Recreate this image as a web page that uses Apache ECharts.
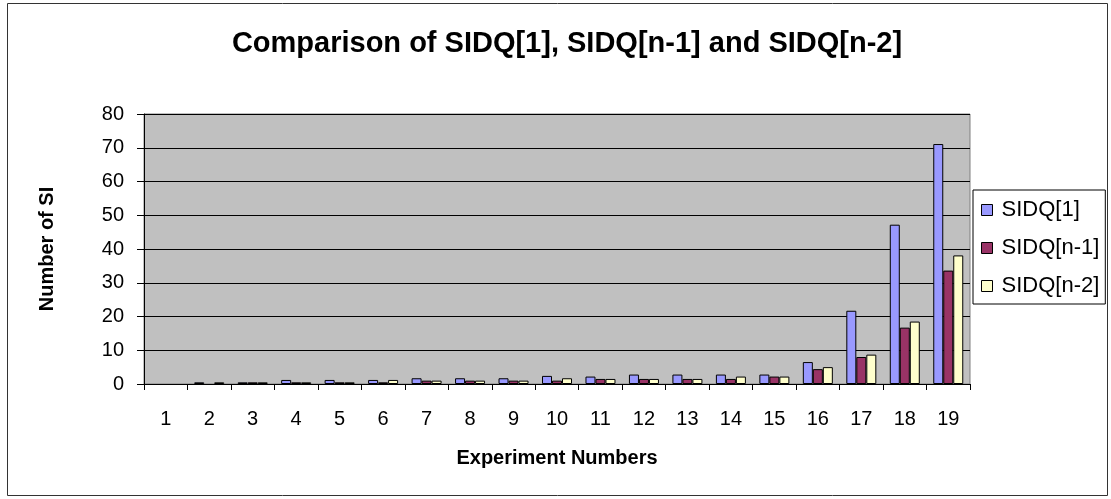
<!DOCTYPE html>
<html>
<head>
<meta charset="utf-8">
<script src="https://cdn.jsdelivr.net/npm/echarts@6/dist/echarts.min.js"></script>
<style>
  html, body { margin: 0; padding: 0; background: #fff; }
  #main { width: 1111px; height: 499px; }
</style>
</head>
<body>
<div id="main"></div>
<script>
var experiments = ['1', '2', '3', '4', '5', '6', '7', '8', '9', '10',
    '11', '12', '13', '14', '15', '16', '17', '18', '19'];
var sidq1 = [0, 0.5, 0.5, 1.2, 1.2, 1.2, 1.7, 1.7, 1.7, 2.4, 2.2, 2.8, 2.8, 2.8, 2.8, 6.5, 21.7, 47.2, 71.1];
var sidqN1 = [0, 0, 0.5, 0.5, 0.5, 0.5, 1.0, 1.0, 1.0, 1.0, 1.5, 1.5, 1.5, 1.5, 2.2, 4.4, 8.0, 16.7, 33.6];
var sidqN2 = [0, 0.5, 0.5, 0.5, 0.5, 1.2, 1.0, 1.0, 1.0, 1.7, 1.5, 1.5, 1.5, 2.2, 2.2, 5.0, 8.7, 18.5, 38.1];
var seriesNames = ['SIDQ[1]', 'SIDQ[n-1]', 'SIDQ[n-2]'];
var seriesColors = ['#9999FF', '#993366', '#FFFFCC'];

var font = '"Liberation Sans", Arial, sans-serif';
var myChart = echarts.init(document.getElementById('main'));

function barSeries(i, data) {
    return {
        name: seriesNames[i],
        type: 'bar',
        // zero bars are not drawn at all in the original
        data: data.map(function (v) { return v === 0 ? '-' : v; }),
        barWidth: 10,
        barGap: '0%',
        itemStyle: {
            color: seriesColors[i],
            borderColor: '#000',
            borderWidth: 1
        }
    };
}

var option = {
    animation: false,
    backgroundColor: '#fff',
    textStyle: { fontFamily: font },
    graphic: [{
        type: 'rect',
        shape: { x: 7.5, y: 3.5, width: 1100, height: 492 },
        style: { fill: 'none', stroke: '#333', lineWidth: 1 },
        silent: true
    }],
    title: {
        text: 'Comparison of SIDQ[1], SIDQ[n-1] and SIDQ[n-2]',
        left: 562,
        textAlign: 'center',
        top: 24,
        textStyle: { fontFamily: font, fontSize: 29, fontWeight: 'bold', color: '#000' }
    },
    legend: {
        orient: 'vertical',
        left: 973,
        top: 190,
        padding: [9, 6, 7, 8],
        itemWidth: 11,
        itemHeight: 11,
        itemGap: 16,
        icon: 'rect',
        backgroundColor: '#fff',
        borderColor: '#000',
        borderWidth: 1,
        data: seriesNames,
        textStyle: { fontFamily: font, fontSize: 22, color: '#000', padding: [0, 0, 0, 4] },
        itemStyle: { borderColor: '#000', borderWidth: 1 }
    },
    grid: {
        left: 144,
        top: 114,
        right: 141,
        bottom: 115,
        show: true,
        backgroundColor: '#C0C0C0',
        borderColor: '#808080',
        borderWidth: 1
    },
    xAxis: {
        type: 'category',
        data: experiments,
        name: 'Experiment Numbers',
        nameLocation: 'middle',
        nameGap: 64,
        nameTextStyle: { fontFamily: font, fontSize: 20, fontWeight: 'bold', color: '#000' },
        axisLine: { lineStyle: { color: '#000', width: 1 } },
        axisTick: { show: true, interval: 0, length: 6, lineStyle: { color: '#000' } },
        axisLabel: { interval: 0, margin: 25, fontFamily: font, fontSize: 20, color: '#000' },
        splitLine: { show: false }
    },
    yAxis: {
        type: 'value',
        min: 0,
        max: 80,
        interval: 10,
        name: 'Number of SI',
        nameLocation: 'middle',
        nameRotate: 90,
        nameGap: 87,
        nameTextStyle: { fontFamily: font, fontSize: 20, fontWeight: 'bold', color: '#000' },
        axisLine: { show: true, lineStyle: { color: '#000', width: 1 } },
        axisTick: { show: true, length: 7, lineStyle: { color: '#000' } },
        axisLabel: { margin: 20, fontFamily: font, fontSize: 20, color: '#000' },
        splitLine: { show: true, lineStyle: { color: '#000', width: 1 } }
    },
    series: [
        barSeries(0, sidq1),
        barSeries(1, sidqN1),
        barSeries(2, sidqN2)
    ]
};
myChart.setOption(option);
</script>
</body>
</html>
